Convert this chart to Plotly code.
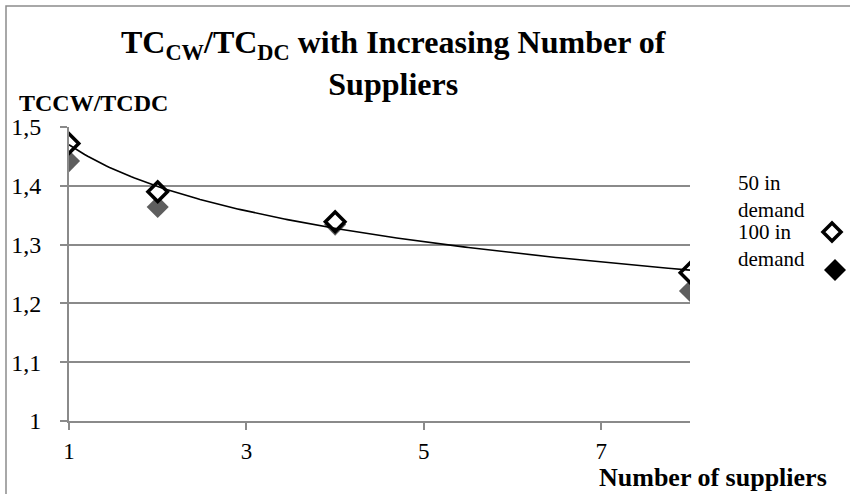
import numpy as np
import plotly.graph_objects as go

# Data
suppliers = [1, 2, 4, 8]
ratio_50 = [1.472, 1.390, 1.339, 1.252]    # 50 in demand
ratio_100 = [1.442, 1.364, 1.334, 1.221]   # 100 in demand
x_ticks = [1, 3, 5, 7]
y_ticks = [1.0, 1.1, 1.2, 1.3, 1.4, 1.5]
y_tick_labels = ["1", "1,1", "1,2", "1,3", "1,4", "1,5"]
legend_labels = ["50 in<br>demand", "100 in<br>demand"]

# Logarithmic trend line fitted to the 50-in-demand series
b, a = np.polyfit(np.log(suppliers), ratio_50, 1)
trend_x = np.linspace(1, 8, 200)
trend_y = a + b * np.log(trend_x)

SERIF = "Liberation Serif"
GRID = "#8a8a8a"

# Plot-area geometry (pixels) used for paper-coordinate decorations
W, H = 850, 494
L, R, T, B = 69, 160, 127, 73
pw, ph = W - L - R, H - T - B


def px(x):
    return (x - L) / pw


def py(y):
    return (H - B - y) / ph


fig = go.Figure()
fig.add_trace(go.Scatter(
    x=suppliers, y=ratio_100, mode="markers", name="100 in demand",
    marker=dict(symbol="diamond", size=17, color="#5e5e5e", line=dict(width=0)),
    showlegend=False))
fig.add_trace(go.Scatter(
    x=suppliers, y=ratio_50, mode="markers", name="50 in demand",
    marker=dict(symbol="diamond", size=15, color="white",
                line=dict(width=3.5, color="black")),
    showlegend=False))
fig.add_trace(go.Scatter(
    x=trend_x, y=trend_y, mode="lines", line=dict(color="black", width=1.6),
    showlegend=False, hoverinfo="skip"))

shapes = [
    # outer chart border
    dict(type="rect", xref="paper", yref="paper",
         x0=px(6), x1=px(853), y0=py(497), y1=py(6),
         line=dict(color="#8c8c8c", width=1.5), layer="below"),
]


def diamond(cx, cy, r, fill, line_w):
    path = (f"M {px(cx)} {py(cy - r)} L {px(cx + r)} {py(cy)} "
            f"L {px(cx)} {py(cy + r)} L {px(cx - r)} {py(cy)} Z")
    return dict(type="path", xref="paper", yref="paper", path=path,
                fillcolor=fill, line=dict(color="black", width=line_w))


shapes.append(diamond(832, 232, 9, "white", 3.5))
shapes.append(diamond(835, 270, 11, "black", 0))

annotations = [
    dict(text="<b>TC<sub>CW</sub>/TC<sub>DC</sub> with Increasing Number of<br>Suppliers</b>",
         xref="paper", yref="paper", x=px(393), y=py(22), xanchor="center",
         yanchor="top", showarrow=False,
         font=dict(family=SERIF, size=32, color="black")),
    dict(text="<b>TCCW/TCDC</b>", xref="paper", yref="paper", x=px(17), y=py(103),
         xanchor="left", yanchor="middle", showarrow=False,
         font=dict(family=SERIF, size=24, color="black")),
    dict(text="<b>Number of suppliers</b>", xref="paper", yref="paper", x=px(829),
         y=py(477), xanchor="right", yanchor="middle", showarrow=False,
         font=dict(family=SERIF, size=26, color="black")),
    dict(text=legend_labels[0], xref="paper", yref="paper", x=px(736), y=py(196),
         xanchor="left", yanchor="middle", showarrow=False, align="left",
         font=dict(family=SERIF, size=21, color="black")),
    dict(text=legend_labels[1], xref="paper", yref="paper", x=px(736), y=py(245),
         xanchor="left", yanchor="middle", showarrow=False, align="left",
         font=dict(family=SERIF, size=21, color="black")),
]

fig.update_layout(
    width=W, height=H,
    margin=dict(l=L, r=R, t=T, b=B),
    paper_bgcolor="white", plot_bgcolor="white",
    shapes=shapes, annotations=annotations,
    font=dict(family=SERIF, size=21, color="black"),
)
fig.update_xaxes(
    range=[1, 8], tickvals=x_ticks, ticktext=[str(v) for v in x_ticks],
    showgrid=False, zeroline=False, showline=True, linecolor=GRID, linewidth=2,
    ticks="outside", ticklen=7, tickcolor=GRID, tickwidth=2,
    tickfont=dict(family=SERIF, size=23), ticklabelstandoff=1)
fig.update_yaxes(
    range=[1, 1.5], tickvals=y_ticks, ticktext=y_tick_labels,
    showgrid=True, gridcolor=GRID, gridwidth=2, zeroline=False,
    showline=True, linecolor=GRID, linewidth=2,
    ticks="outside", ticklen=7, tickcolor=GRID, tickwidth=2,
    tickfont=dict(family=SERIF, size=24), ticklabelstandoff=14)

fig.write_html("out.html")
